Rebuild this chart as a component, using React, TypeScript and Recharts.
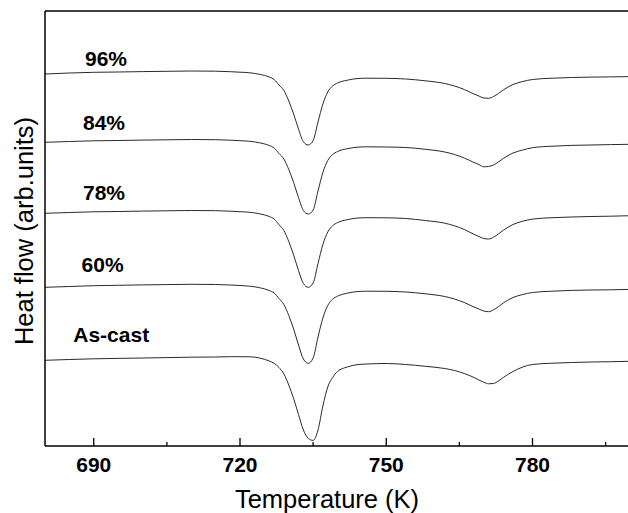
import React from 'react';
import { LineChart, Line, XAxis, YAxis, ReferenceLine, ReferenceDot } from 'recharts';

// Temperature grid (K)
const temperatures = [
  680, 685, 690, 695, 700, 705, 710, 715,
  718, 720, 722, 724, 726,
  727, 728, 729, 730, 731, 732, 733, 734, 735, 736, 737, 738, 739, 740,
  742, 744, 746,
  750, 754, 758, 762,
  764, 766, 768,
  769, 770, 771, 772, 773, 774,
  776, 778, 780,
  784, 788, 792, 796, 800,
];

// Heat flow (arb. units, stacked curves)
const heat96 = [
  372, 373, 373.7, 374, 374.4, 374.7, 375, 374.8,
  374.3, 373.8, 373.2, 371.7, 369,
  366.5, 361, 355.5, 345, 332, 317, 304.3, 301, 305.5, 324, 342, 354, 360, 363,
  365.8, 367.4, 367.8,
  367.7, 367, 365.2, 362.5,
  360, 356.5, 352,
  350, 348, 347.7, 349.5, 352.5, 356,
  361.5, 364.5, 366.5,
  367.8, 368.5, 368.9, 369.1, 369.4,
];
const heat84 = [
  303.7, 304.5, 305.2, 305.5, 305.9, 306.2, 306.5, 306.3,
  305.8, 305.3, 304.7, 303.2, 300.5,
  298, 292.5, 287, 276.5, 263.5, 248.5, 235.5, 232, 236, 255, 273.5, 285.5, 291.5, 294.5,
  297.3, 298.8, 299.2,
  299, 298.5, 296.7, 294,
  291.5, 288, 283.5,
  281.5, 279.2, 279.6, 281, 284, 287.5,
  293, 296, 298.3,
  299.8, 300.6, 301, 301.4, 301.7,
];
const heat78 = [
  232.7, 233.5, 234.2, 234.5, 234.9, 235.2, 235.5, 235.3,
  234.8, 234.3, 233.7, 232.2, 229.5,
  227, 221.3, 215.5, 204.5, 191, 175.5, 162.5, 158.7, 163, 182.5, 201.5, 214, 220.3, 223.4,
  226.3, 227.9, 228.3,
  228.2, 227.5, 225.5, 222.8,
  220.2, 216.5, 211.7,
  209.5, 207.5, 207, 208.8, 212, 215.7,
  221.5, 224.8, 226.9,
  228.3, 229, 229.5, 229.8, 230.3,
];
const heat60 = [
  158.7, 159.5, 160.3, 160.7, 161.1, 161.4, 161.7, 161.5,
  161, 160.5, 159.8, 158.3, 155.5,
  153, 147.5, 141.5, 130.5, 117, 101, 87, 82.7, 88, 109, 128, 140.5, 146.8, 149.8,
  152.8, 154.4, 154.8,
  154.7, 154, 152.2, 149.5,
  147, 143.5, 139,
  137, 135, 134.3, 136.2, 139.3, 143,
  148.5, 151.5, 153.5,
  154.8, 155.6, 156, 156.2, 156.6,
];
const heatAsCast = [
  85.7, 86.5, 87.2, 87.6, 88, 88.4, 88.8, 89,
  89.3, 89.3, 89.2, 88, 85,
  82.7, 78.5, 72, 61, 47.5, 31.5, 16, 7.7, 5.6, 16, 40, 59, 68.5, 74.5,
  79, 81.3, 82,
  82.5, 81.5, 79.7, 77.5,
  75.5, 72.5, 68.5,
  66, 63.8, 62.2, 62.5, 65, 68.5,
  74.5, 79, 81.5,
  82.8, 83.5, 84, 84.3, 84.7,
];

const seriesKeys = ['s96', 's84', 's78', 's60', 'sAsCast'];
const seriesValues = [heat96, heat84, heat78, heat60, heatAsCast];

// Curve labels and their anchor positions (data coordinates)
const curveLabels = ['96%', '84%', '78%', '60%', 'As-cast'];
const labelT = [688.2, 687.8, 687.8, 687.5, 685.8];
const labelV = [380, 316, 246, 174.3, 104.3];

const majorTicks = [690, 720, 750, 780];
const allTicks = [690, 705, 720, 735, 750, 765, 780, 795];

const data = temperatures.map((t, i) => {
  const row: Record<string, number> = { t };
  seriesKeys.forEach((k, j) => {
    row[k] = seriesValues[j][i];
  });
  return row;
});

const FONT = '"Liberation Sans", Arial, Helvetica, sans-serif';

function XTick(props: any) {
  const { x, y, payload } = props;
  const major = majorTicks.includes(payload.value);
  return (
    <g>
      <line x1={x} x2={x} y1={y} y2={y - (major ? 8 : 4)} stroke="#000" strokeWidth={1.3} />
      {major && (
        <text x={x} y={y + 25.5} textAnchor="middle" fontFamily={FONT} fontWeight="bold" fontSize={21} fill="#000">
          {payload.value}
        </text>
      )}
    </g>
  );
}

const renderXTitle = () => (
  <text x={327} y={508} textAnchor="middle" fontFamily={FONT} fontSize={25.5} fill="#000">
    Temperature (K)
  </text>
);

const renderYTitle = () => (
  <text
    x={33}
    y={231}
    transform="rotate(-90, 33, 231)"
    textAnchor="middle"
    fontFamily={FONT}
    fontSize={25.5}
    fill="#000"
  >
    Heat flow (arb.units)
  </text>
);

export default function App() {
  return (
    <div style={{ position: 'absolute', left: 0, top: 0, width: 628, height: 513, overflow: 'hidden', background: '#fff' }}>
      <LineChart width={640} height={513} data={data} margin={{ top: 11, right: 10, bottom: 0, left: 0 }}>
        <XAxis
          dataKey="t"
          type="number"
          domain={[680, 800]}
          ticks={allTicks}
          interval={0}
          tick={<XTick />}
          tickLine={false}
          tickSize={0}
          tickMargin={0}
          height={67}
          axisLine={{ stroke: '#000', strokeWidth: 1.5 }}
          allowDataOverflow
          label={renderXTitle}
        />
        <YAxis
          type="number"
          domain={[0, 435]}
          width={45}
          tick={false}
          tickLine={false}
          axisLine={{ stroke: '#000', strokeWidth: 1.5 }}
          allowDataOverflow
          label={renderYTitle}
        />
        <ReferenceLine y={435} stroke="#000" strokeWidth={1.5} />
        {seriesKeys.map((k) => (
          <Line
            key={k}
            dataKey={k}
            type="monotone"
            stroke="#2a2a2a"
            strokeWidth={1}
            dot={false}
            activeDot={false}
            isAnimationActive={false}
          />
        ))}
        {curveLabels.map((lab, i) => (
          <ReferenceDot
            key={lab}
            x={labelT[i]}
            y={labelV[i]}
            r={0}
            fill="none"
            stroke="none"
            label={(p: any) => (
              <text
                x={p.viewBox.x}
                y={p.viewBox.y}
                fontFamily={FONT}
                fontWeight="bold"
                fontSize={21}
                fill="#000"
              >
                {lab}
              </text>
            )}
          />
        ))}
      </LineChart>
    </div>
  );
}
